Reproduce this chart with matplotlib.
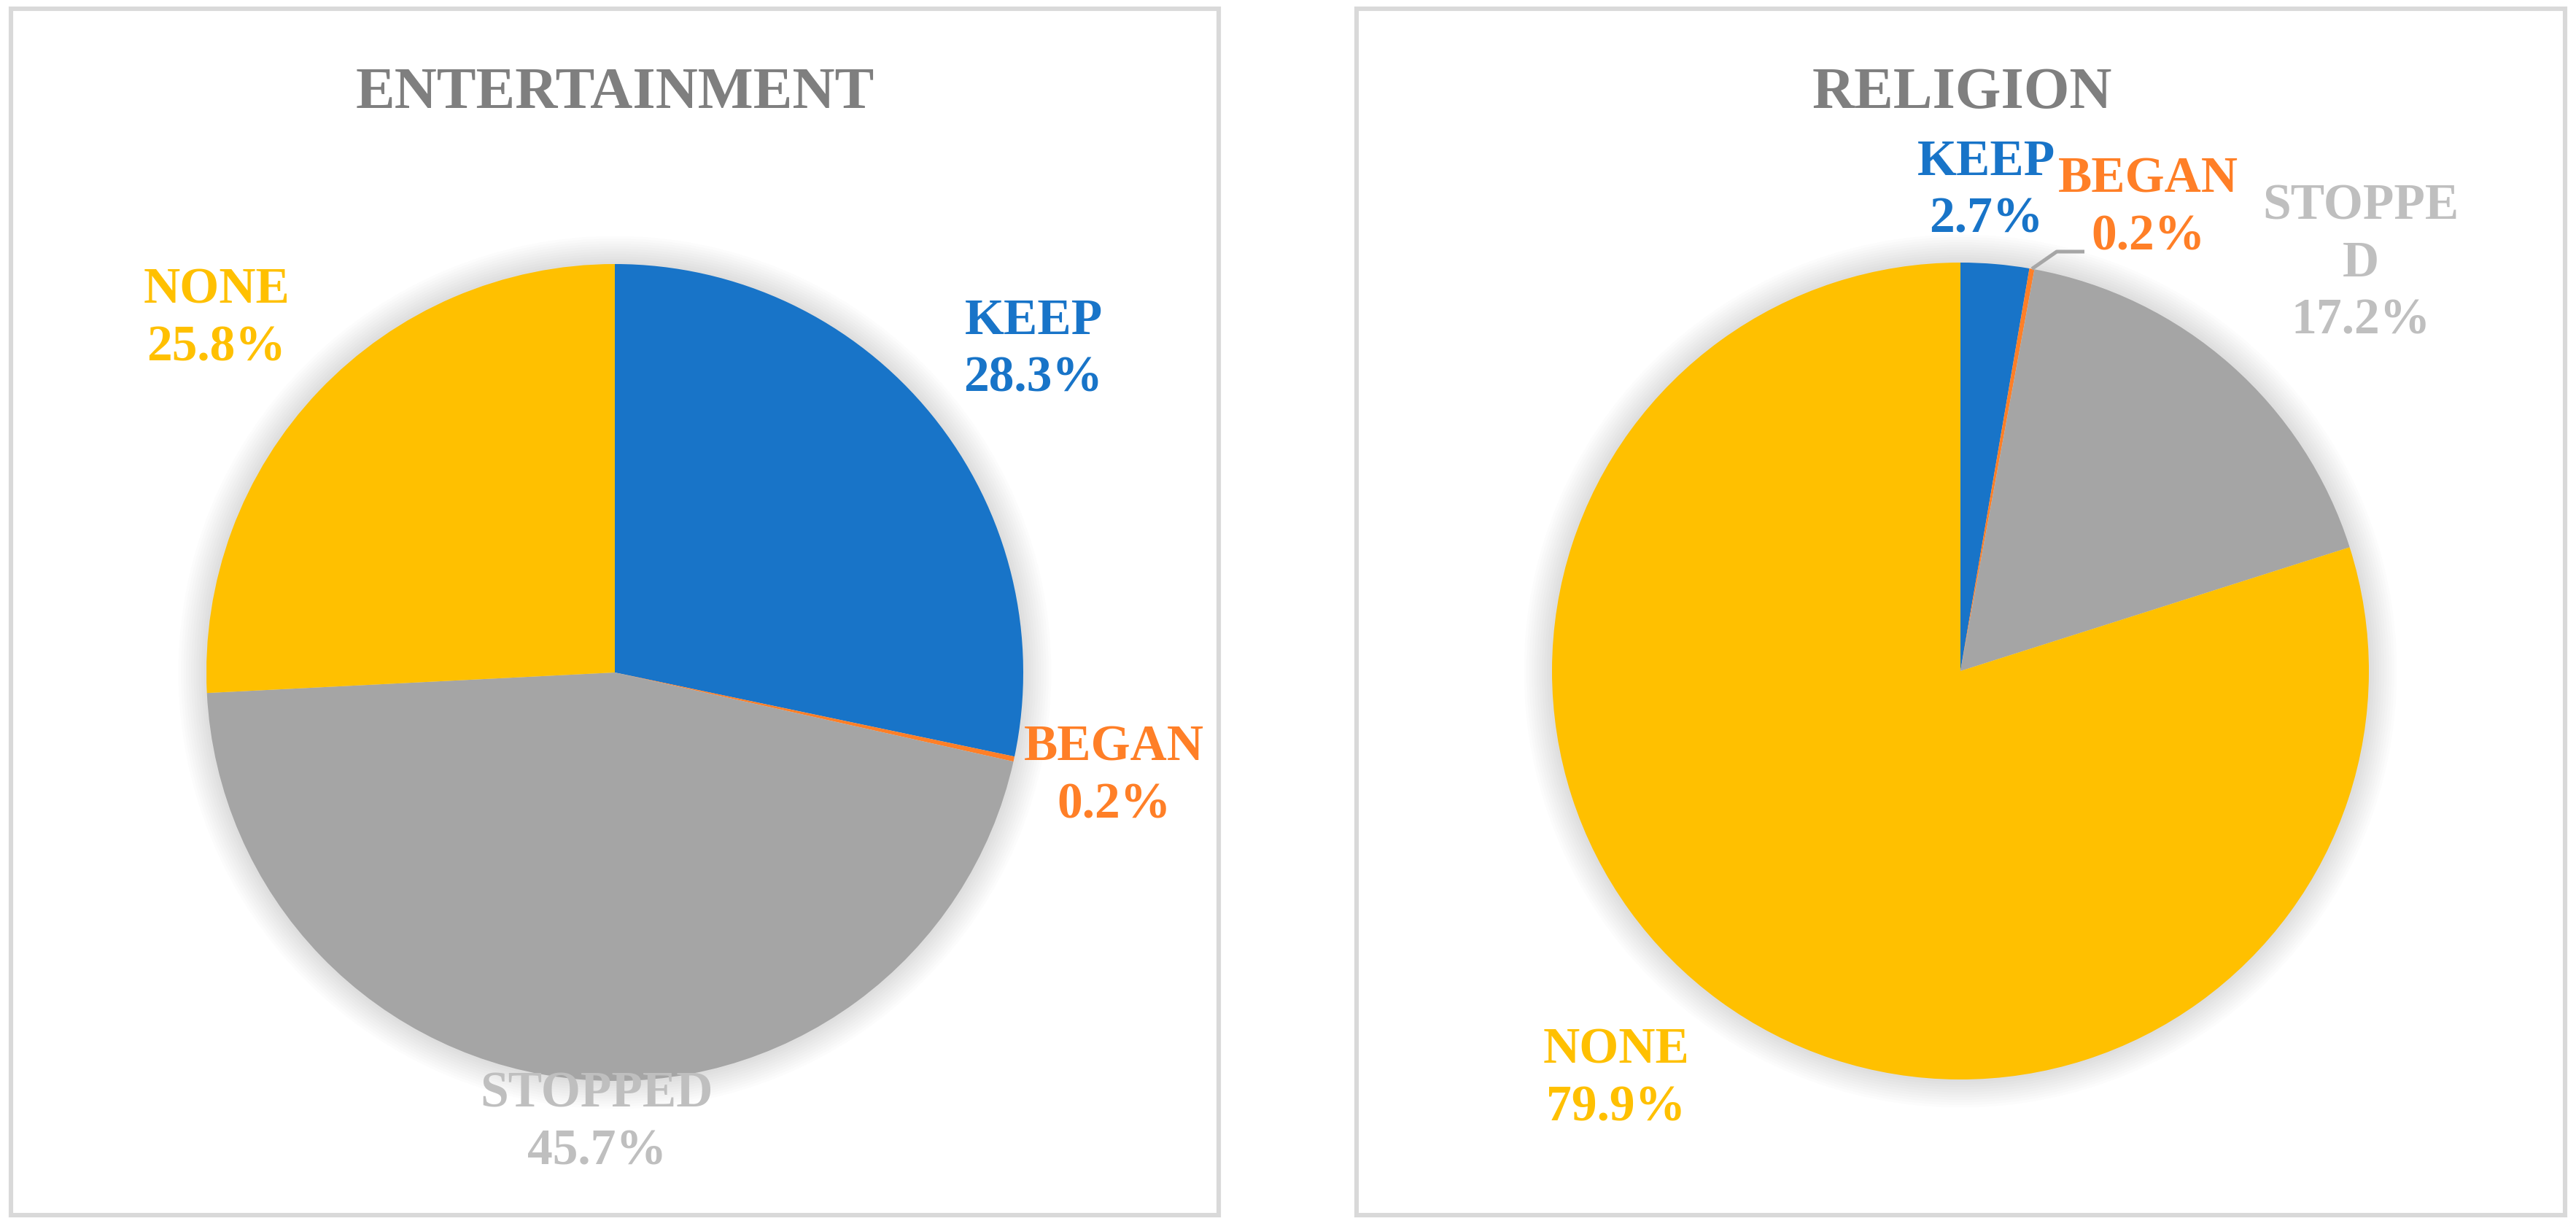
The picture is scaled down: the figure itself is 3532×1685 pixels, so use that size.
"""Two pie charts: entertainment vs religion habits."""
import numpy as np
import matplotlib.pyplot as plt
from matplotlib.patches import Rectangle, Circle

W, H = 3532, 1685

categories = ["KEEP", "BEGAN", "STOPPED", "NONE"]
entertainment = [28.3, 0.2, 45.7, 25.8]
religion = [2.7, 0.2, 17.2, 79.9]
titles = ["ENTERTAINMENT", "RELIGION"]

slice_colors = ["#1874C8", "#FF7F27", "#A5A5A5", "#FFC000"]
label_colors = ["#1874C8", "#FF7F27", "#BFBFBF", "#FFC000"]

plt.rcParams["font.family"] = ["Liberation Serif", "DejaVu Serif"]

fig = plt.figure(figsize=(W / 100, H / 100), dpi=100)
ax = fig.add_axes([0, 0, 1, 1])


def Y(y):
    # pixel row (from top) -> data y
    return H - y


# panel frames
for x0, x1 in [(15, 1671), (1860, 3517)]:
    ax.add_patch(Rectangle((x0, Y(1666)), x1 - x0, 1666 - 12,
                           fill=False, edgecolor="#D9D9D9", lw=4.4, zorder=0))

centers = [(843, 922), (2688, 920)]
radius = 560
title_x = [843, 2690]

# label positions (pixels), one per category
label_pos = [
    [(1417, 480), (1527, 1065), (818, 1540), (297, 438)],
    [(2723, 262), (2945, 286), (3237, 362), (2216, 1480)],
]
label_text = [
    ["KEEP", "BEGAN", "STOPPED", "NONE"],
    ["KEEP", "BEGAN", "STOPPE\nD", "NONE"],
]

for i, vals in enumerate([entertainment, religion]):
    cx, cy = centers[i]
    # soft glow shadow around the pie
    for k in range(12):
        ax.add_patch(Circle((cx, Y(cy)), radius + 3.5 * k, color="black",
                            alpha=0.011, lw=0, zorder=1))
    ax.pie(vals, colors=slice_colors, startangle=90, counterclock=False,
           center=(cx, Y(cy)), radius=radius, frame=True,
           wedgeprops=dict(linewidth=0, zorder=2))
    ax.text(title_x[i], Y(128), titles[i], ha="center", va="center",
            fontsize=58, fontweight="bold", color="#7F7F7F")
    for j, v in enumerate(vals):
        lx, ly = label_pos[i][j]
        ax.text(lx, Y(ly), f"{label_text[i][j]}\n{v:.1f}%", ha="center",
                va="center", fontsize=50, fontweight="bold",
                color=label_colors[j], linespacing=1.3, zorder=5)

# keep axes as the full canvas after pie() calls
ax.set_xlim(0, W)
ax.set_ylim(0, H)
ax.set_aspect("equal")
ax.axis("off")

# leader line for the small BEGAN slice in religion
cx, cy = centers[1]
mid = np.deg2rad(90 - 3.6 * (religion[0] + religion[1] / 2))
px, py = cx + radius * np.cos(mid), Y(cy) + radius * np.sin(mid)
ax.plot([px, 2820, 2858], [py, Y(345), Y(345)], color="#A6A6A6",
        lw=3.6, solid_capstyle="butt", zorder=4)

fig.savefig("out.png", dpi=100)
